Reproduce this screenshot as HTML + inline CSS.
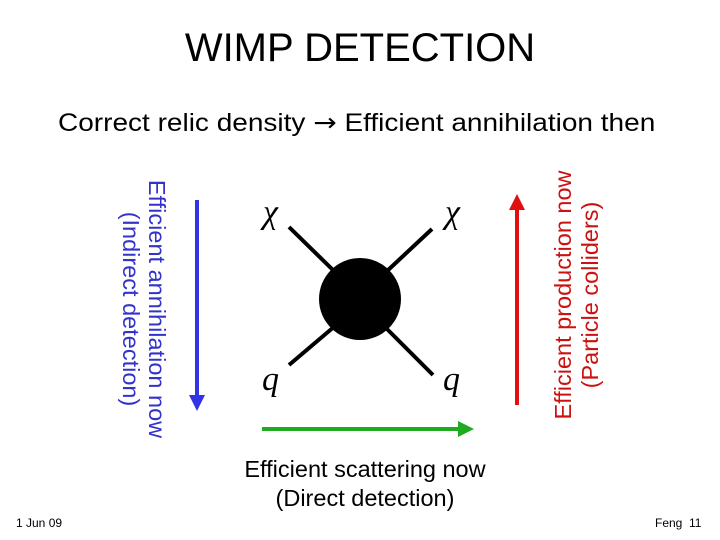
<!DOCTYPE html>
<html><head><meta charset="utf-8"><style>
body{margin:0;width:720px;height:540px;background:#fff;position:relative;overflow:hidden;font-family:"Liberation Sans",sans-serif}
.t{position:absolute;white-space:nowrap}
</style></head><body>
<div class="t" style="left:0;width:720px;text-align:center;top:26px;font-size:40px">WIMP DETECTION</div>
<div class="t" style="left:58px;top:108px;font-size:25px;transform:scaleX(1.12);transform-origin:0 0">Correct relic density <span style="font-family:'DejaVu Sans'">→</span> Efficient annihilation then</div>
<svg width="720" height="540" style="position:absolute;left:0;top:0">
<defs>
<marker id="b" markerWidth="4" markerHeight="4" refX="2" refY="2" orient="auto" markerUnits="strokeWidth"><path d="M0,0L4,2L0,4z" fill="#3333e6"/></marker>
<marker id="g" markerWidth="4" markerHeight="4" refX="2" refY="2" orient="auto" markerUnits="strokeWidth"><path d="M0,0L4,2L0,4z" fill="#1faa1f"/></marker>
<marker id="r" markerWidth="4" markerHeight="4" refX="2" refY="2" orient="auto" markerUnits="strokeWidth"><path d="M0,0L4,2L0,4z" fill="#e01010"/></marker>
</defs>
<line x1="197" y1="200" x2="197" y2="403" stroke="#3333e6" stroke-width="4" marker-end="url(#b)"/>
<line x1="262" y1="429" x2="466" y2="429" stroke="#1faa1f" stroke-width="4" marker-end="url(#g)"/>
<line x1="517" y1="405" x2="517" y2="202" stroke="#e01010" stroke-width="4" marker-end="url(#r)"/>
<g stroke="#000" stroke-width="4">
<line x1="289" y1="227" x2="335" y2="272"/><line x1="432" y1="229" x2="386" y2="272"/>
<line x1="289" y1="365" x2="335" y2="326"/><line x1="433" y1="375" x2="386" y2="328"/>
</g>
<circle cx="360" cy="299" r="41" fill="#000"/>
<g font-family="Liberation Serif" font-style="italic" font-size="34">
<text x="263" y="223">χ</text><text x="445" y="223">χ</text>
<text x="262" y="390">q</text><text x="443" y="390">q</text>
</g>
<g font-size="23.5" fill="#3333cc" font-family="Liberation Sans" text-anchor="middle" transform="translate(145,309) rotate(90)">
<text x="0" y="-4">Efficient annihilation now</text><text x="0" y="22">(Indirect detection)</text>
</g>
<g font-size="23.5" fill="#cc1111" font-family="Liberation Sans" text-anchor="middle" transform="translate(577,295) rotate(-90)">
<text x="0" y="-6">Efficient production now</text><text x="0" y="21">(Particle colliders)</text>
</g>
</svg>
<div class="t" style="left:0;width:730px;text-align:center;top:455px;font-size:23.5px;line-height:29px">Efficient scattering now<br>(Direct detection)</div>
<div class="t" style="left:16px;top:516px;font-size:12px">1 Jun 09</div>
<div class="t" style="left:655px;top:516px;font-size:12px">Feng&nbsp; 11</div>
</body></html>
